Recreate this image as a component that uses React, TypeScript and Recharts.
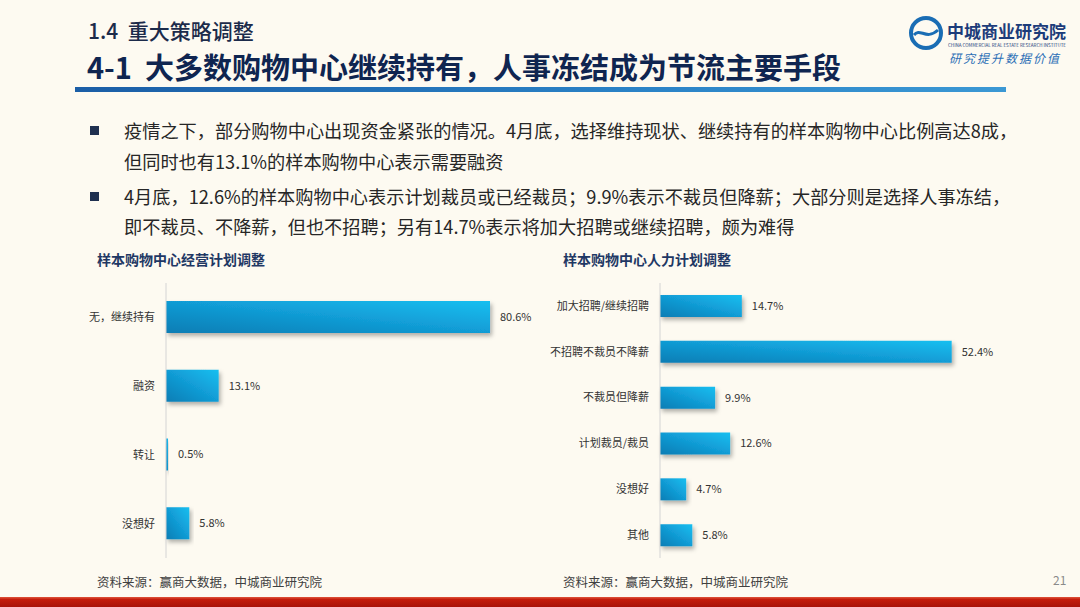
import { BarChart, Bar, XAxis, YAxis, LabelList } from "recharts";

const planCategories = ["无，继续持有", "融资", "转让", "没想好"];
const planValues = [80.6, 13.1, 0.5, 5.8];

const hrCategories = [
  "加大招聘/继续招聘",
  "不招聘不裁员不降薪",
  "不裁员但降薪",
  "计划裁员/裁员",
  "没想好",
  "其他",
];
const hrValues = [14.7, 52.4, 9.9, 12.6, 4.7, 5.8];

const bulletLines = [
  "疫情之下，部分购物中心出现资金紧张的情况。4月底，选择维持现状、继续持有的样本购物中心比例高达8成，",
  "但同时也有13.1%的样本购物中心表示需要融资",
  "4月底，12.6%的样本购物中心表示计划裁员或已经裁员；9.9%表示不裁员但降薪；大部分则是选择人事冻结，",
  "即不裁员、不降薪，但也不招聘；另有14.7%表示将加大招聘或继续招聘，颇为难得",
];
const bulletY = [130, 161, 196, 226];
const bulletMarks = [true, false, true, false];

const SOURCE = "资料来源：赢商大数据，中城商业研究院";
const FONT = '"Noto Sans CJK SC", "Noto Sans", sans-serif';

const planData = planCategories.map((name, i) => ({ name, value: planValues[i] }));
const hrData = hrCategories.map((name, i) => ({ name, value: hrValues[i] }));

const pct = (v: any) => `${v}%`;

function BarDefs({ id }: { id: string }) {
  return (
    <defs>
      <linearGradient id={id} x1="0" y1="1" x2="1" y2="0">
        <stop offset="0%" stopColor="#0a7db4" />
        <stop offset="55%" stopColor="#129fd8" />
        <stop offset="100%" stopColor="#18bff0" />
      </linearGradient>
      <filter id={id + "-sh"} x="-10%" y="-30%" width="130%" height="180%">
        <feDropShadow dx="2" dy="3" stdDeviation="2" floodColor="#000" floodOpacity="0.3" />
      </filter>
    </defs>
  );
}

interface HBarProps {
  id: string;
  data: { name: string; value: number }[];
  width: number;
  height: number;
  axisWidth: number;
  max: number;
  barSize: number;
  right: number;
}

function HBar({ id, data, width, height, axisWidth, max, barSize, right }: HBarProps) {
  return (
    <BarChart
      width={width}
      height={height}
      data={data}
      layout="vertical"
      margin={{ top: 8, right, bottom: 12, left: 0 }}
    >
      <BarDefs id={id} />
      <XAxis type="number" domain={[0, max]} hide />
      <YAxis
        type="category"
        dataKey="name"
        width={axisWidth}
        tickLine={false}
        tickSize={0}
        tickMargin={11}
        axisLine={{ stroke: "#d4d4d4" }}
        tick={{ fontSize: 11, fill: "#333", fontFamily: FONT }}
        interval={0}
      />
      <Bar
        dataKey="value"
        fill={`url(#${id})`}
        barSize={barSize}
        isAnimationActive={false}
        style={{ filter: `url(#${id}-sh)` }}
      >
        <LabelList
          dataKey="value"
          position="right"
          offset={10}
          formatter={pct}
          style={{ fontSize: 11, fill: "#333", fontFamily: FONT }}
        />
      </Bar>
    </BarChart>
  );
}

export default function App() {
  return (
    <div
      style={{
        position: "absolute",
        left: 0,
        top: 0,
        width: 1080,
        height: 607,
        overflow: "hidden",
        background: "#fdfaf1",
        fontFamily: FONT,
      }}
    >
      <div style={{ position: "absolute", left: 88, top: 16, fontSize: 21, lineHeight: "28px", color: "#1c2b4a", fontWeight: 500 }}>
        1.4&nbsp; 重大策略调整
      </div>
      <div style={{ position: "absolute", left: 87, top: 46, fontSize: 29, lineHeight: "40px", color: "#0f2550", fontWeight: 700, whiteSpace: "nowrap" }}>
        4-1&nbsp; 大多数购物中心继续持有，人事冻结成为节流主要手段
      </div>
      <div
        style={{
          position: "absolute",
          left: 75,
          top: 87,
          width: 931,
          height: 5,
          background: "linear-gradient(90deg, #1b5ea6, #2a82c6 60%, #3b98d4)",
        }}
      />

      {/* logo */}
      <svg style={{ position: "absolute", left: 900, top: 8 }} width={175} height={64}>
        <circle cx={26} cy={25} r={15} fill="none" stroke="#1a6db4" strokeWidth={4} />
        <path d="M14 27 C20 19, 26 33, 38 22" fill="none" stroke="#1a6db4" strokeWidth={3} />
        <text x={47} y={30} fontSize={17} fontWeight={700} fill="#1c3c7a" fontFamily={FONT}>
          中城商业研究院
        </text>
        <text x={48} y={39} fontSize={4.5} fill="#1c3c7a" fontFamily={FONT}>
          CHINA COMMERCIAL REAL ESTATE RESEARCH INSTITUTE
        </text>
        <text x={49} y={55} fontSize={12} fill="#2c6fb6" fontStyle="italic" letterSpacing={2} fontFamily={FONT}>
          研究提升数据价值
        </text>
      </svg>

      {bulletLines.map((t, i) => (
        <div key={i}>
          {bulletMarks[i] && (
            <div
              style={{
                position: "absolute",
                left: 90,
                top: bulletY[i] - 4,
                width: 9,
                height: 9,
                background: "#1f3050",
              }}
            />
          )}
          <div
            style={{
              position: "absolute",
              left: 124,
              top: bulletY[i] - 13,
              fontSize: 18.2,
              lineHeight: "26px",
              color: "#262626",
              whiteSpace: "nowrap",
            }}
          >
            {t}
          </div>
        </div>
      ))}

      <div style={{ position: "absolute", left: 97, top: 249, fontSize: 14, lineHeight: "20px", fontWeight: 700, color: "#1f3864" }}>
        样本购物中心经营计划调整
      </div>
      <div style={{ position: "absolute", left: 563, top: 249, fontSize: 14, lineHeight: "20px", fontWeight: 700, color: "#1f3864" }}>
        样本购物中心人力计划调整
      </div>

      <div style={{ position: "absolute", left: 60, top: 275 }}>
        <HBar id="gPlan" data={planData} width={520} height={295} axisWidth={106} max={100} barSize={32} right={12} />
      </div>
      <div style={{ position: "absolute", left: 540, top: 275 }}>
        <HBar id="gHr" data={hrData} width={470} height={295} axisWidth={120} max={60} barSize={22} right={16} />
      </div>

      <div style={{ position: "absolute", left: 97, top: 574, fontSize: 12.5, lineHeight: "16px", color: "#404040" }}>
        {SOURCE}
      </div>
      <div style={{ position: "absolute", left: 563, top: 574, fontSize: 12.5, lineHeight: "16px", color: "#404040" }}>
        {SOURCE}
      </div>
      <div style={{ position: "absolute", left: 1053, top: 572, fontSize: 12, lineHeight: "16px", color: "#8a8a8a" }}>
        21
      </div>

      <div
        style={{
          position: "absolute",
          left: 0,
          top: 597,
          width: 1080,
          height: 10,
          background: "linear-gradient(180deg, #e0553c 0%, #c41d0c 25%, #a8130a 100%)",
        }}
      />
    </div>
  );
}
